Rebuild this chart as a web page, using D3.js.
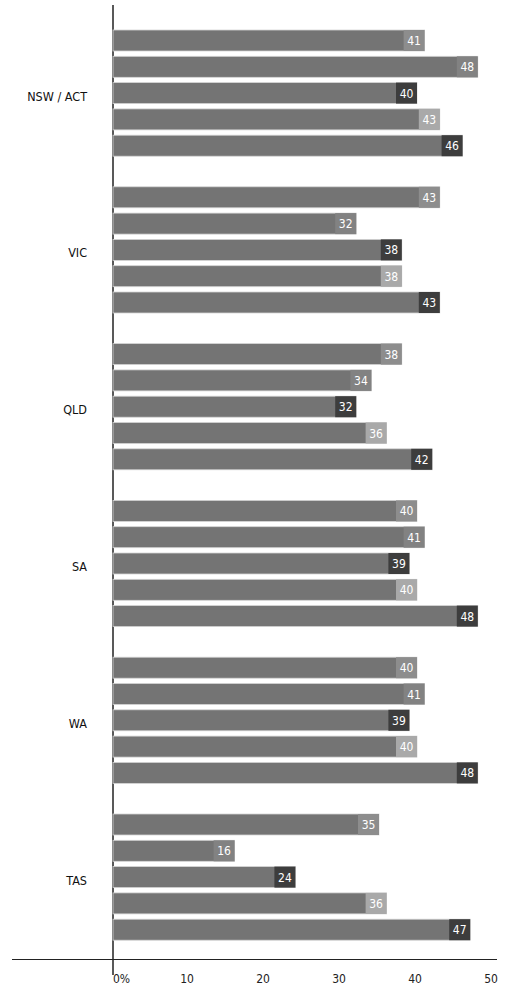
<!DOCTYPE html>
<html>
<head>
<meta charset="utf-8">
<script src="https://cdn.jsdelivr.net/npm/d3@7"></script>
<style>
  body { margin: 0; background: #fff; }
  text { font-family: "DejaVu Sans Condensed", "DejaVu Sans", sans-serif; }
</style>
</head>
<body>
<div id="chart"></div>
<script>
// Regions and their five bars (top to bottom)
const regions = ["NSW / ACT", "VIC", "QLD", "SA", "WA", "TAS"];
const series = ["s1", "s2", "s3", "s4", "s5"];
const values = [
    [41, 48, 40, 43, 46],
    [43, 32, 38, 38, 43],
    [38, 34, 32, 36, 42],
    [40, 41, 39, 40, 48],
    [40, 41, 39, 40, 48],
    [35, 16, 24, 36, 47]
];
const tickValues = [0, 10, 20, 30, 40, 50];
const tickLabels = ["0%", "10", "20", "30", "40", "50"];

const width = 509;
const height = 999;

// value box shade per series
const boxColor = d3.scaleOrdinal()
    .domain(series)
    .range(["#8d8d8d", "#828282", "#3d3d3d", "#a9a9a9", "#3d3d3d"]);

const x = d3.scaleLinear().domain([0, 50]).range([113, 493]);

// group bands, then bars inside each group
const yGroup = d3.scaleBand()
    .domain(regions)
    .range([30, 30 + 6 * 156.8]);
const yBar = d3.scaleBand()
    .domain(series)
    .range([0, 4 * 26.3 + 21])
    .paddingInner(5.3 / 26.3);

const svg = d3.select("#chart")
    .append("svg")
    .attr("width", width)
    .attr("height", height);

const rows = [];
regions.forEach((r, i) => {
    series.forEach((s, j) => {
        rows.push({ region: r, series: s, value: values[i][j] });
    });
});

// Vertical axis line
svg.append("line")
    .attr("x1", x(0)).attr("x2", x(0))
    .attr("y1", 5).attr("y2", 975)
    .attr("stroke", "#222")
    .attr("stroke-width", 1.5);

// Horizontal axis line
svg.append("line")
    .attr("x1", 12).attr("x2", 497)
    .attr("y1", 959.5).attr("y2", 959.5)
    .attr("stroke", "#222")
    .attr("stroke-width", 1);

// Bars
const bar = svg.append("g")
    .selectAll("g")
    .data(rows)
    .enter().append("g")
    .attr("transform", d => `translate(0,${yGroup(d.region) + yBar(d.series)})`);

bar.append("rect")
    .attr("x", x(0))
    .attr("y", 0)
    .attr("width", d => x(d.value) - x(0))
    .attr("height", yBar.bandwidth())
    .attr("fill", "#747474")
    .attr("stroke", "#d4d4d4")
    .attr("stroke-width", 0.8);

// Value box at the end of each bar
bar.append("rect")
    .attr("x", d => x(d.value) - 21)
    .attr("y", 0)
    .attr("width", 21)
    .attr("height", yBar.bandwidth())
    .attr("fill", d => boxColor(d.series));

bar.append("text")
    .attr("x", d => x(d.value) - 10.5)
    .attr("y", yBar.bandwidth() / 2 + 4.5)
    .attr("text-anchor", "middle")
    .attr("font-size", "12px")
    .attr("fill", "white")
    .text(d => d.value);

// Region labels
svg.append("g")
    .selectAll("text")
    .data(regions)
    .enter().append("text")
    .attr("x", 87)
    .attr("y", d => yGroup(d) + yBar("s3") + yBar.bandwidth() / 2 + 7.5)
    .attr("text-anchor", "end")
    .attr("font-size", "12.5px")
    .attr("fill", "#111")
    .text(d => d);

// Tick labels
svg.append("g")
    .selectAll("text")
    .data(tickValues)
    .enter().append("text")
    .attr("x", (d, i) => i === 0 ? x(d) : x(d) - 2)
    .attr("y", 983)
    .attr("text-anchor", (d, i) => i === 0 ? "start" : "middle")
    .attr("font-size", "12px")
    .attr("fill", "#222")
    .text((d, i) => tickLabels[i]);
</script>
</body>
</html>
